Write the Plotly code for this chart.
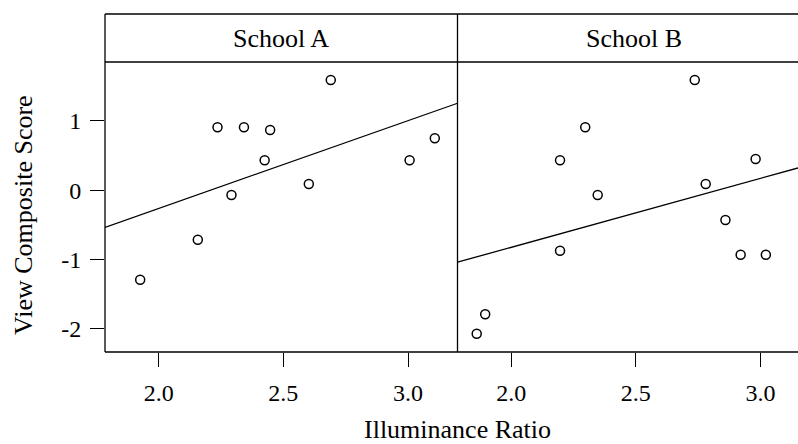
import numpy as np
import plotly.graph_objects as go

# ---------------- data ----------------
panels = ["School A", "School B"]
school_a_x = [1.926, 2.157, 2.236, 2.292, 2.342, 2.425, 2.447, 2.602, 2.690, 3.006, 3.107]
school_a_y = [-1.290, -0.713, 0.909, -0.068, 0.909, 0.433, 0.870, 0.091, 1.592, 0.433, 0.750]
school_b_x = [1.862, 1.896, 2.196, 2.196, 2.297, 2.347, 2.736, 2.780, 2.859, 2.920, 2.980, 3.021]
school_b_y = [-2.069, -1.789, 0.433, -0.872, 0.909, -0.068, 1.592, 0.091, -0.429, -0.929, 0.452, -0.929]
fit_intercepts = [-2.796, -2.815]
fit_slopes = [1.267, 0.996]
x_tick_vals = [2.0, 2.5, 3.0]
x_tick_text = ["2.0", "2.5", "3.0"]
y_tick_vals = [-2, -1, 0, 1]
y_tick_text = ["-2", "-1", "0", "1"]
x_title = "Illuminance Ratio"
y_title = "View Composite Score"

# ---------------- layout geometry ----------------
W, H = 798, 444
L, R, T, B = 105, 0, 62, 92
plot_w = W - L - R
plot_h = H - T - B
panel_px = 352.5
split = panel_px / plot_w
strip_h = 48 / plot_h
x_min, x_max_full = 1.785, 3.198
px_per_unit = panel_px / (x_max_full - x_min)
x_max_cut = x_min + (plot_w - panel_px) / px_per_unit
y_range = [-2.333, 1.851]

FONT = "Liberation Serif"

fig = go.Figure()

xs_list = [school_a_x, school_b_x]
ys_list = [school_a_y, school_b_y]
ranges = [[x_min, x_max_full], [x_min, x_max_cut]]
for i in range(2):
    xa = "x" if i == 0 else "x2"
    ya = "y" if i == 0 else "y2"
    fig.add_trace(go.Scatter(
        x=xs_list[i], y=ys_list[i], mode="markers", xaxis=xa, yaxis=ya,
        marker=dict(symbol="circle-open", size=9, color="black",
                    line=dict(width=1.5, color="black")),
        showlegend=False, hoverinfo="skip"))
    lx = np.array(ranges[i])
    ly = fit_intercepts[i] + fit_slopes[i] * lx
    fig.add_trace(go.Scatter(
        x=lx, y=ly, mode="lines", xaxis=xa, yaxis=ya,
        line=dict(color="black", width=1.3),
        showlegend=False, hoverinfo="skip"))

xcommon = dict(showgrid=False, zeroline=False, showline=False,
               ticks="outside", ticklen=14, tickwidth=1.2, tickcolor="black",
               tickvals=x_tick_vals, ticktext=x_tick_text,
               ticklabelstandoff=5,
               tickfont=dict(family=FONT, size=24, color="black"),
               fixedrange=True)
fig.update_layout(
    width=W, height=H,
    margin=dict(l=L, r=R, t=T, b=B, pad=0),
    paper_bgcolor="white", plot_bgcolor="white",
    font=dict(family=FONT, color="black"),
    xaxis=dict(domain=[0, split], range=ranges[0], anchor="y", **xcommon),
    xaxis2=dict(domain=[split, 1], range=ranges[1], anchor="y2", **xcommon),
    yaxis=dict(domain=[0, 1], range=y_range, anchor="x",
               showgrid=False, zeroline=False, showline=False,
               ticks="outside", ticklen=14, tickwidth=1.2, tickcolor="black",
               tickvals=y_tick_vals, ticktext=y_tick_text,
               ticklabelstandoff=4,
               tickfont=dict(family=FONT, size=24, color="black")),
    yaxis2=dict(domain=[0, 1], range=y_range, anchor="x2", matches="y",
                showgrid=False, zeroline=False, showline=False,
                showticklabels=False, ticks=""),
)

# frame lines (right edge is cut off in the reference)
line = dict(color="black", width=1.3)
top = 1 + strip_h
for y in [0, 1, top]:
    fig.add_shape(type="line", xref="paper", yref="paper",
                  x0=0, x1=1, y0=y, y1=y, line=line, layer="above")
for x in [0, split]:
    fig.add_shape(type="line", xref="paper", yref="paper",
                  x0=x, x1=x, y0=0, y1=top, line=line, layer="above")

# strip labels
centers = [split / 2, split * 1.5]
for name, cx in zip(panels, centers):
    fig.add_annotation(text=name, xref="paper", yref="paper",
                       x=cx, y=1 + strip_h / 2, xanchor="center", yanchor="middle",
                       showarrow=False, font=dict(family=FONT, size=26, color="black"))

# axis titles
fig.add_annotation(text=x_title, xref="paper", yref="paper",
                   x=split, y=(plot_h - (430 - T)) / plot_h,
                   xanchor="center", yanchor="middle", showarrow=False,
                   font=dict(family=FONT, size=26, color="black"))
fig.add_annotation(text=y_title, xref="paper", yref="paper",
                   x=(23 - L) / plot_w, y=(plot_h - (215 - T)) / plot_h,
                   xanchor="center", yanchor="middle", textangle=-90, showarrow=False,
                   font=dict(family=FONT, size=26, color="black"))

fig.write_html("out.html")
